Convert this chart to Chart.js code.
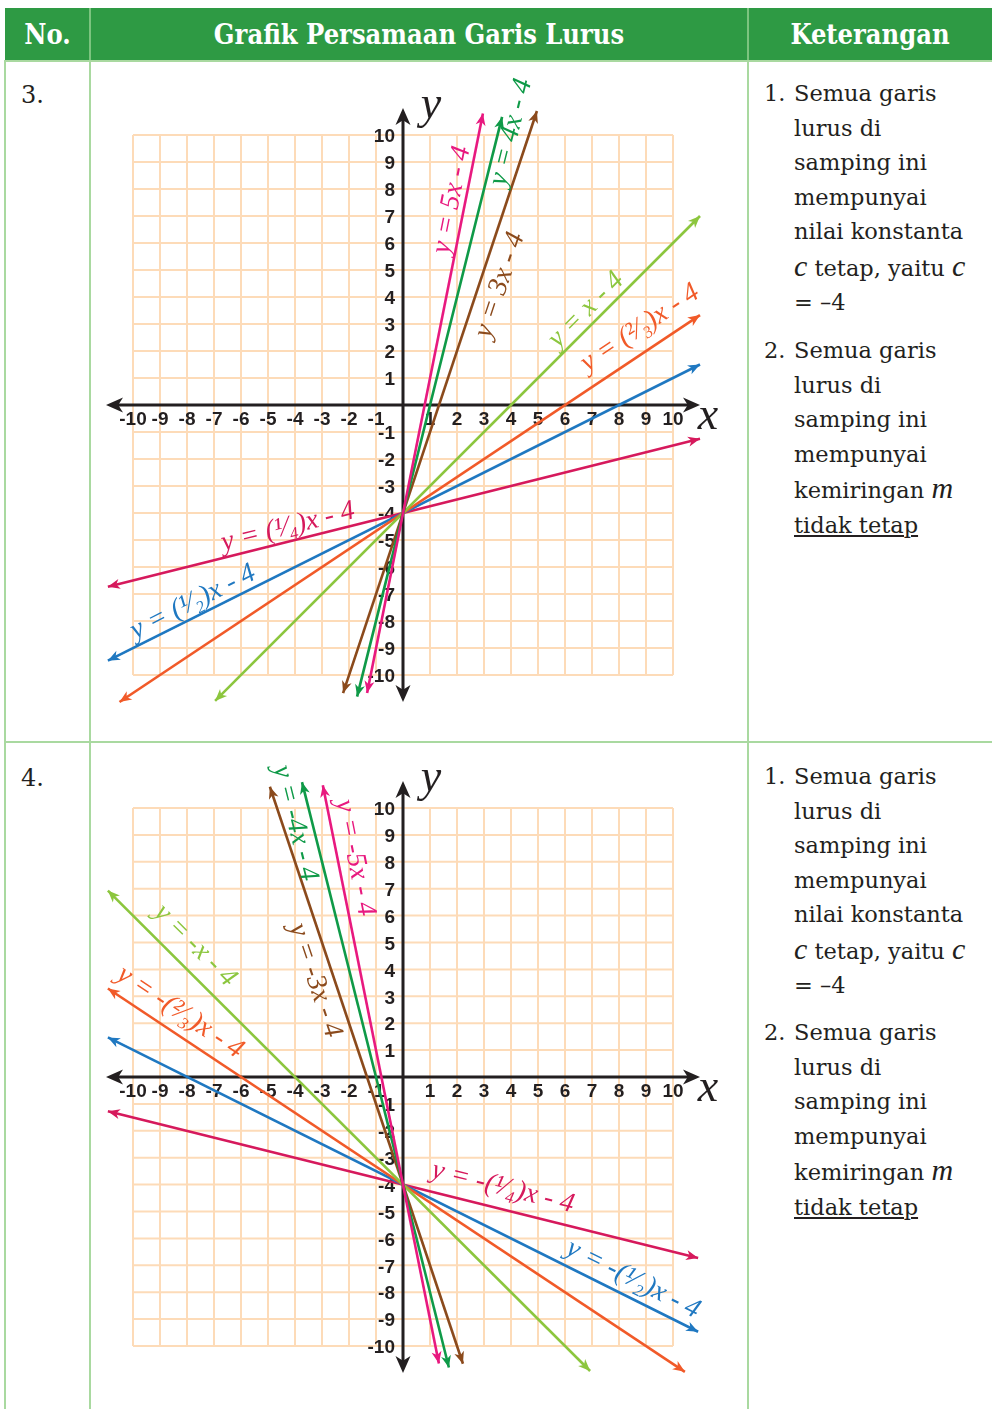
<!DOCTYPE html>
<html>
<head>
<meta charset="utf-8">
<script src="https://cdn.jsdelivr.net/npm/chart.js@4.4.0/dist/chart.umd.min.js"></script>
<style>
  body { margin: 0; width: 992px; height: 1409px; background: #fff; position: relative; overflow: hidden; font-family: "DejaVu Serif", serif; color: #231f20; }
  .head { position: absolute; top: 8px; left: 5px; width: 987px; height: 52px; background: #2e9a44; }
  .head div { position: absolute; top: 0; height: 52px; line-height: 54px; color: #fff; font-weight: bold; font-size: 27px; text-align: center;
              font-family: "DejaVu Serif Condensed", "DejaVu Serif", serif; font-stretch: condensed; }
  .vline { position: absolute; width: 2px; background: #a9d9a0; }
  .hline { position: absolute; height: 2px; background: #a9d9a0; }
  .num { position: absolute; left: 21px; font-size: 24px; line-height: 34px; }
  .item { position: absolute; left: 764px; padding-left: 30px; font-size: 22.5px; line-height: 34.5px; white-space: nowrap; }
  .item span.n { position: absolute; left: 0; top: 0; }
  .item i { font-family: "Liberation Serif", "Times New Roman", serif; font-size: 30px; }
  canvas { position: absolute; left: 91px; }
</style>
</head>
<body>
<div class="head">
  <div style="left:0;width:85px">No.</div>
  <div style="left:85px;width:658px">Grafik Persamaan Garis Lurus</div>
  <div style="left:743px;width:244px">Keterangan</div>
</div>
<div class="vline" style="left:89px;top:8px;height:52px;background:#7cc47f"></div>
<div class="vline" style="left:747px;top:8px;height:52px;background:#7cc47f"></div>
<div class="vline" style="left:4px;top:60px;height:1349px"></div>
<div class="vline" style="left:89px;top:60px;height:1349px"></div>
<div class="vline" style="left:747px;top:60px;height:1349px"></div>
<div class="hline" style="left:4px;top:60px;width:988px"></div>
<div class="hline" style="left:4px;top:741px;width:988px"></div>

<div class="num" style="top:78px">3.</div>
<div class="num" style="top:761px">4.</div>

<div class="item" style="top:76px"><span class="n">1.</span>Semua garis<br>lurus di<br>samping ini<br>mempunyai<br>nilai konstanta<br><i>c</i> tetap, yaitu <i>c</i><br>= –4</div>
<div class="item" style="top:333px"><span class="n">2.</span>Semua garis<br>lurus di<br>samping ini<br>mempunyai<br>kemiringan <i>m</i><br><u>tidak tetap</u></div>
<div class="item" style="top:759px"><span class="n">1.</span>Semua garis<br>lurus di<br>samping ini<br>mempunyai<br>nilai konstanta<br><i>c</i> tetap, yaitu <i>c</i><br>= –4</div>
<div class="item" style="top:1015px"><span class="n">2.</span>Semua garis<br>lurus di<br>samping ini<br>mempunyai<br>kemiringan <i>m</i><br><u>tidak tetap</u></div>

<canvas id="chartTop" width="656" height="679" style="top:62px"></canvas>
<canvas id="chartBottom" width="656" height="665" style="top:744px"></canvas>

<script>
// tick values on both axes (0 is not labelled)
const gridTicks = [-10, -9, -8, -7, -6, -5, -4, -3, -2, -1, 0, 1, 2, 3, 4, 5, 6, 7, 8, 9, 10];
// axis arrows reach a bit past the grid
const axisEnds = [-11, 11];

const lineColors = ['#e8197f', '#0f9a48', '#8b4a1c', '#8cc63e', '#f15a29', '#1f78c1', '#d6195c'];

// row 3: positive slopes, all through (0, -4)
const topNames = ['y = 5x - 4', 'y = 4x - 4', 'y = 3x - 4', 'y = x - 4', 'y = (²⁄₃)x - 4', 'y = (¹⁄₂)x - 4', 'y = (¹⁄₄)x - 4'];
const topStartX = [-1.33, -1.7, -2.22, -6.96, -10.5, -10.93, -10.93];
const topStartY = [-10.67, -10.8, -10.67, -10.96, -11, -9.47, -6.73];
const topEndX = [2.96, 3.67, 4.96, 11, 11, 11, 11];
const topEndY = [10.8, 10.67, 10.89, 7, 3.33, 1.5, -1.25];
const topLabelX = [1.81, 4.0, 3.59, 6.78, 8.78, -7.78, -4.26];
const topLabelY = [7.59, 10.1, 4.44, 3.52, 2.85, -7.3, -4.52];

// row 4: negative slopes, all through (0, -4)
const botNames = ['y = -5x - 4', 'y = -4x - 4', 'y = -3x - 4', 'y = -x - 4', 'y = -(²⁄₃)x - 4', 'y = -(¹⁄₂)x - 4', 'y = -(¹⁄₄)x - 4'];
const botStartX = [-2.97, -3.74, -4.93, -10.93, -10.93, -10.93, -10.93];
const botStartY = [10.85, 10.96, 10.79, 6.93, 3.29, 1.47, -1.27];
const botEndX = [1.33, 1.7, 2.22, 6.93, 10.44, 10.93, 10.93];
const botEndY = [-10.65, -10.8, -10.66, -10.93, -10.96, -9.47, -6.73];
const botLabelX = [-1.78, -4.0, -3.26, -7.7, -8.26, 8.52, 3.7];
const botLabelY = [8.15, 9.44, 3.59, 4.89, 2.41, -7.52, -4.11];

const INK = '#231f20';

const drawArrow = (ctx, fx, fy, tx, ty, len, half, color) => {
    const a = Math.atan2(ty - fy, tx - fx);
    const c = Math.cos(a), s = Math.sin(a);
    ctx.save();
    ctx.fillStyle = color;
    ctx.beginPath();
    ctx.moveTo(tx, ty);
    ctx.lineTo(tx - len * c - half * s, ty - len * s + half * c);
    ctx.lineTo(tx - len * 0.72 * c, ty - len * 0.72 * s);
    ctx.lineTo(tx - len * c + half * s, ty - len * s - half * c);
    ctx.closePath();
    ctx.fill();
    ctx.restore();
};

// grid, axes and tick labels under the lines; arrowheads and names on top
const graphDeco = {
    id: 'graphDeco',
    beforeDatasetsDraw(chart) {
        const ctx = chart.ctx;
        const xs = chart.scales.x, ys = chart.scales.y;
        const x0 = xs.getPixelForValue(0), y0 = ys.getPixelForValue(0);

        ctx.save();
        ctx.strokeStyle = '#fddbb8';
        ctx.lineWidth = 2;
        gridTicks.forEach(v => {
            const px = xs.getPixelForValue(v), py = ys.getPixelForValue(v);
            ctx.beginPath();
            ctx.moveTo(px, ys.getPixelForValue(-10));
            ctx.lineTo(px, ys.getPixelForValue(10));
            ctx.stroke();
            ctx.beginPath();
            ctx.moveTo(xs.getPixelForValue(-10), py);
            ctx.lineTo(xs.getPixelForValue(10), py);
            ctx.stroke();
        });

        ctx.fillStyle = INK;
        ctx.font = 'bold 19px "Liberation Sans", Arial, sans-serif';
        ctx.textBaseline = 'middle';
        gridTicks.filter(v => v !== 0).forEach(v => {
            ctx.textAlign = 'center';
            ctx.fillText(String(v), xs.getPixelForValue(v), y0 + 15);
            ctx.textAlign = 'right';
            ctx.fillText(String(v), x0 - 8, ys.getPixelForValue(v) + 2);
        });

        // axes with arrowheads at both ends
        const xl = xs.getPixelForValue(axisEnds[0]), xr = xs.getPixelForValue(axisEnds[1]);
        const yt = ys.getPixelForValue(axisEnds[1]), yb = ys.getPixelForValue(axisEnds[0]);
        ctx.strokeStyle = INK;
        ctx.lineWidth = 3;
        ctx.beginPath();
        ctx.moveTo(xl + 8, y0); ctx.lineTo(xr - 8, y0);
        ctx.moveTo(x0, yt + 8); ctx.lineTo(x0, yb - 8);
        ctx.stroke();
        drawArrow(ctx, x0, y0, xl, y0, 17, 7.5, INK);
        drawArrow(ctx, x0, y0, xr, y0, 17, 7.5, INK);
        drawArrow(ctx, x0, y0, x0, yt, 17, 7.5, INK);
        drawArrow(ctx, x0, y0, x0, yb, 17, 7.5, INK);

        ctx.font = 'italic 46px "Liberation Serif", serif';
        ctx.textAlign = 'center';
        ctx.fillText('y', x0 + 28, yt - 2);
        ctx.fillText('x', xr + 8, y0 + 12);
        ctx.restore();
    },
    afterDatasetsDraw(chart, args, opts) {
        const ctx = chart.ctx;
        const xs = chart.scales.x, ys = chart.scales.y;
        chart.data.datasets.forEach((ds, i) => {
            const p = ds.data;
            const x1 = xs.getPixelForValue(p[0].x), y1 = ys.getPixelForValue(p[0].y);
            const x2 = xs.getPixelForValue(p[1].x), y2 = ys.getPixelForValue(p[1].y);
            drawArrow(ctx, x1, y1, x2, y2, 12, 5, ds.borderColor);
            drawArrow(ctx, x2, y2, x1, y1, 12, 5, ds.borderColor);

            const lx = xs.getPixelForValue(opts.labelX[i]), ly = ys.getPixelForValue(opts.labelY[i]);
            ctx.save();
            ctx.translate(lx, ly);
            ctx.rotate(Math.atan2(y2 - y1, x2 - x1));
            ctx.fillStyle = ds.borderColor;
            ctx.font = 'italic 28px "Liberation Serif", serif';
            ctx.textAlign = 'center';
            ctx.textBaseline = 'middle';
            ctx.fillText(opts.names[i], 0, 0);
            ctx.restore();
        });
    }
};

const buildChart = (canvasId, names, sx, sy, ex, ey, lx, ly, padding) => {
    const datasets = names.map((n, i) => ({
        label: n,
        data: [{ x: sx[i], y: sy[i] }, { x: ex[i], y: ey[i] }],
        showLine: true,
        borderColor: lineColors[i],
        borderWidth: 2.6,
        pointRadius: 0,
        clip: false
    }));
    return new Chart(document.getElementById(canvasId).getContext('2d'), {
        type: 'scatter',
        data: { datasets },
        options: {
            responsive: false,
            animation: false,
            devicePixelRatio: 1,
            events: [],
            layout: { padding },
            scales: {
                x: { type: 'linear', min: -10, max: 10, display: false },
                y: { type: 'linear', min: -10, max: 10, display: false }
            },
            plugins: {
                legend: { display: false },
                tooltip: { enabled: false },
                graphDeco: { names, labelX: lx, labelY: ly }
            }
        },
        plugins: [graphDeco]
    });
};

buildChart('chartTop', topNames, topStartX, topStartY, topEndX, topEndY, topLabelX, topLabelY,
    { left: 42, right: 74, top: 73, bottom: 66 });
buildChart('chartBottom', botNames, botStartX, botStartY, botEndX, botEndY, botLabelX, botLabelY,
    { left: 42, right: 74, top: 64, bottom: 63 });
</script>
</body>
</html>
